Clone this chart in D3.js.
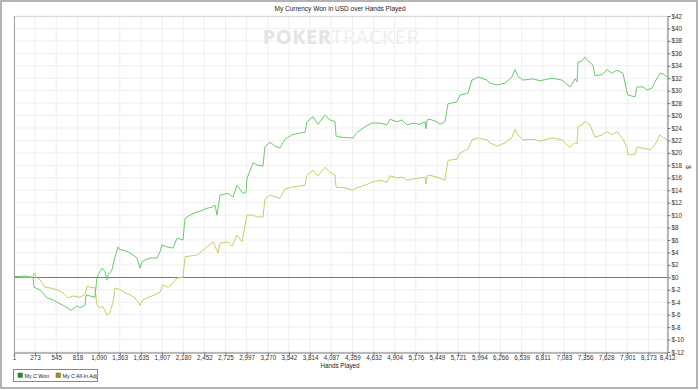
<!DOCTYPE html>
<html><head><meta charset="utf-8">
<script src="https://cdn.jsdelivr.net/npm/d3@7"></script>
<style>
html,body{margin:0;padding:0;background:#fff;}
svg{display:block;font-family:"Liberation Sans",Arial,sans-serif;}
</style></head>
<body><svg id="c" width="700" height="390"></svg>
<script>
const title = "My Currency Won in USD over Hands Played";
const xLabel = "Hands Played";
const yLabel = "$";
const seriesNames = ["My C Won", "My C All-In Adj"];
const xTicks = [1,273,545,818,1090,1363,1635,1907,2180,2452,2725,2997,3270,3542,3814,4087,4359,4632,4904,5176,5449,5721,5994,6266,6539,6811,7083,7356,7628,7901,8173,8412];
const yTicks = [-12,-10,-8,-6,-4,-2,0,2,4,6,8,10,12,14,16,18,20,22,24,26,28,30,32,34,36,38,40,42];

const wonHands = [1,143,246,258,336,426,503,555,632,684,735,813,851,916,929,980,1044,1070,1109,1135,1173,1199,1212,1263,1302,1341,1366,1405,1469,1534,1585,1624,1650,1688,1753,1843,1882,1907,1972,2049,2101,2178,2204,2268,2358,2436,2487,2551,2590,2616,2654,2758,2822,2873,2951,2990,3002,3080,3144,3208,3234,3299,3363,3427,3492,3582,3685,3749,3775,3852,3917,4007,4071,4136,4149,4226,4368,4419,4522,4612,4715,4806,4844,4934,4999,5063,5140,5230,5295,5308,5321,5359,5449,5488,5552,5591,5707,5746,5849,5900,5978,6094,6132,6222,6325,6416,6454,6493,6557,6686,6776,6931,7060,7137,7163,7227,7253,7266,7317,7356,7394,7459,7484,7575,7613,7639,7703,7768,7845,7896,7909,7999,8025,8102,8154,8218,8257,8321,8360,8412];
const wonValues = [0.1,0.2,0.0,-1.6,-2.0,-3.3,-3.6,-4.0,-4.5,-4.9,-5.3,-4.6,-4.9,-4.5,-2.8,-3.0,-3.2,0.0,0.9,1.5,0.9,-0.4,0.4,1.2,3.3,4.9,4.4,4.4,4.1,3.6,3.1,1.5,2.5,2.8,3.1,3.1,4.1,5.2,4.9,4.7,6.3,6.0,9.5,10.0,10.5,10.8,11.1,11.3,11.6,10.0,13.2,13.5,12.9,14.8,13.5,13.7,15.9,18.4,18.0,17.9,21.0,21.7,21.1,20.8,22.2,22.9,23.2,23.3,25.0,25.8,24.6,26.1,25.3,25.0,22.7,22.5,22.4,23.3,24.2,24.8,24.8,24.5,25.4,25.0,25.3,24.5,24.8,24.6,25.0,23.9,25.3,25.4,25.0,24.6,25.0,27.9,28.2,29.3,29.6,31.7,32.2,31.7,31.2,30.9,31.2,32.2,33.4,32.3,31.7,31.9,31.6,32.0,31.7,30.9,30.6,31.9,31.4,34.6,34.8,35.4,34.8,34.1,32.4,32.6,33.0,33.4,32.8,33.3,32.8,29.8,29.3,29.0,30.6,30.6,30.1,30.4,31.4,32.8,32.7,32.2];

const adjHands = [1,246,258,297,336,400,465,555,632,697,761,851,916,941,980,1044,1070,1109,1147,1199,1238,1276,1302,1366,1431,1495,1560,1624,1663,1714,1817,1882,1920,1985,2049,2101,2178,2204,2358,2436,2487,2564,2629,2654,2758,2809,2873,2938,3002,3080,3131,3208,3234,3299,3427,3492,3582,3749,3775,3852,3917,4007,4071,4136,4149,4265,4368,4419,4522,4612,4715,4806,4844,4934,4999,5063,5140,5295,5308,5321,5359,5449,5552,5591,5707,5746,5849,5900,5978,6094,6132,6222,6325,6416,6454,6493,6557,6686,6776,6931,7060,7137,7163,7227,7253,7266,7317,7356,7420,7484,7575,7639,7703,7768,7845,7896,7909,7999,8025,8128,8193,8257,8321,8360,8412];
const adjValues = [0.1,0.0,0.7,-0.1,-0.4,-1.6,-1.7,-2.0,-2.5,-3.3,-3.0,-3.2,-2.7,-1.4,-1.6,-1.7,-4.5,-4.9,-4.7,-6.1,-5.6,-4.0,-1.7,-2.0,-2.5,-2.8,-3.3,-4.5,-3.6,-3.3,-2.8,-2.4,-1.2,-1.6,-0.9,-0.1,0.0,3.3,3.6,4.4,4.9,5.7,3.9,5.5,5.7,5.0,6.8,5.7,10.0,10.0,9.7,9.7,12.6,13.2,12.7,14.2,14.5,14.8,16.4,17.2,16.3,17.7,16.9,16.4,14.5,14.4,14.0,14.4,14.8,15.3,15.6,15.3,16.3,16.0,16.1,15.6,15.8,16.1,15.0,16.3,16.4,16.1,15.6,18.8,19.0,20.0,20.6,22.1,22.4,22.1,21.6,21.1,21.6,22.5,23.8,22.9,22.1,22.2,21.9,22.4,22.1,21.1,20.9,21.7,21.4,24.2,24.5,25.1,24.5,22.5,22.9,23.4,22.9,23.4,22.2,20.9,19.7,19.7,20.9,20.7,20.5,21.3,22.9,22.5,22.1];

const svg = d3.select("#c");
const L = 14, R = 667, T = 16, B = 352;
const x = d3.scaleLinear().domain([1, 8412]).range([L, R]);
const y = d3.scaleLinear().domain([-12, 42]).range([B, T]);

// outer frame
svg.append("rect").attr("x",1).attr("y",1).attr("width",696).attr("height",387)
  .attr("fill","#fff").attr("stroke","#9a9a9a").attr("stroke-width",1.5);

// title
svg.append("text").attr("x",340).attr("y",11).attr("text-anchor","middle")
  .attr("font-size","6.5px").attr("fill","#222").text(title);

// plot bg
svg.append("rect").attr("x",L).attr("y",T).attr("width",R-L).attr("height",B-T).attr("fill","#fff");

// grid
const g = svg.append("g");
g.selectAll("line.v").data(xTicks).join("line")
  .attr("x1",d=>x(d)).attr("x2",d=>x(d)).attr("y1",T).attr("y2",B)
  .attr("stroke","#efefef").attr("stroke-width",1);
g.selectAll("line.h").data(yTicks).join("line")
  .attr("x1",L).attr("x2",R).attr("y1",d=>y(d)).attr("y2",d=>y(d))
  .attr("stroke","#efefef").attr("stroke-width",1);

// watermark
const wm = svg.append("text").attr("x",341).attr("y",44).attr("text-anchor","middle")
  .attr("font-size","20px").attr("font-weight","bold").attr("font-family","'Open Sans','DejaVu Sans',sans-serif")
  .attr("letter-spacing","0.5px");
wm.append("tspan").attr("fill","#e4e4e4").text("POKER");
wm.append("tspan").attr("fill","#eeeeee").attr("font-weight","normal").text("TRACKER");

// top frame line & left line
svg.append("line").attr("x1",L).attr("x2",R).attr("y1",T+0.5).attr("y2",T+0.5).attr("stroke","#d8d8d8");
svg.append("line").attr("x1",L+0.5).attr("x2",L+0.5).attr("y1",T).attr("y2",B).attr("stroke","#a0a0a0");

// zero line
svg.append("line").attr("x1",L).attr("x2",R).attr("y1",Math.round(y(0))+0.5).attr("y2",Math.round(y(0))+0.5)
  .attr("stroke","#7a7a7a").attr("stroke-width",1);

// lines
const line = d3.line().x(d=>x(d[0])).y(d=>y(d[1]));
const won = wonHands.map((h,i)=>[h,wonValues[i]]);
const adj = adjHands.map((h,i)=>[h,adjValues[i]]);
svg.append("path").datum(adj).attr("d",line).attr("fill","none").attr("stroke","#cccc66").attr("stroke-width",1);
svg.append("path").datum(won).attr("d",line).attr("fill","none").attr("stroke","#66cc66").attr("stroke-width",1);

// axes
const xAxis = d3.axisBottom(x).tickValues(xTicks).tickFormat(d3.format(",")).tickSize(3).tickSizeOuter(0);
const xa = svg.append("g").attr("transform",`translate(0,${B+0.5})`).call(xAxis);
const yAxis = d3.axisRight(y).tickValues(yTicks).tickFormat(d=>"$"+d).tickSize(3).tickSizeOuter(0);
const ya = svg.append("g").attr("transform",`translate(${R+0.5},0)`).call(yAxis);
[xa,ya].forEach(a=>{
  a.select(".domain").attr("stroke","#777");
  a.selectAll(".tick line").attr("stroke","#777");
  a.selectAll("text").attr("font-size","6.3px").attr("fill","#333").attr("font-family","'Liberation Sans',Arial,sans-serif");
});
xa.selectAll("text").attr("y",3.5).attr("dy","0.71em");
ya.selectAll("text").attr("dy","0.32em").attr("x",4);

// axis labels
svg.append("text").attr("x",340).attr("y",368).attr("text-anchor","middle")
  .attr("font-size","6.3px").attr("fill","#222").text(xLabel);
svg.append("text").attr("transform","translate(686,167) rotate(90)").attr("text-anchor","middle")
  .attr("font-size","6.5px").attr("fill","#222").text(yLabel);

// legend
const lg = svg.append("g");
lg.append("rect").attr("x",13.5).attr("y",369.5).attr("width",84).attr("height",12)
  .attr("fill","#fff").attr("stroke","#888");
const legendColors = ["#1e8f1e","#9a9a10"];
const legendX = [18,56];
seriesNames.forEach((n,i)=>{
  lg.append("rect").attr("x",legendX[i]).attr("y",373).attr("width",4.5).attr("height",4.5)
    .attr("fill",legendColors[i]).attr("stroke","#555").attr("stroke-width",0.5);
  lg.append("text").attr("x",legendX[i]+6.5).attr("y",378).attr("font-size","5.3px").attr("fill","#222").text(n);
});
</script></body></html>
